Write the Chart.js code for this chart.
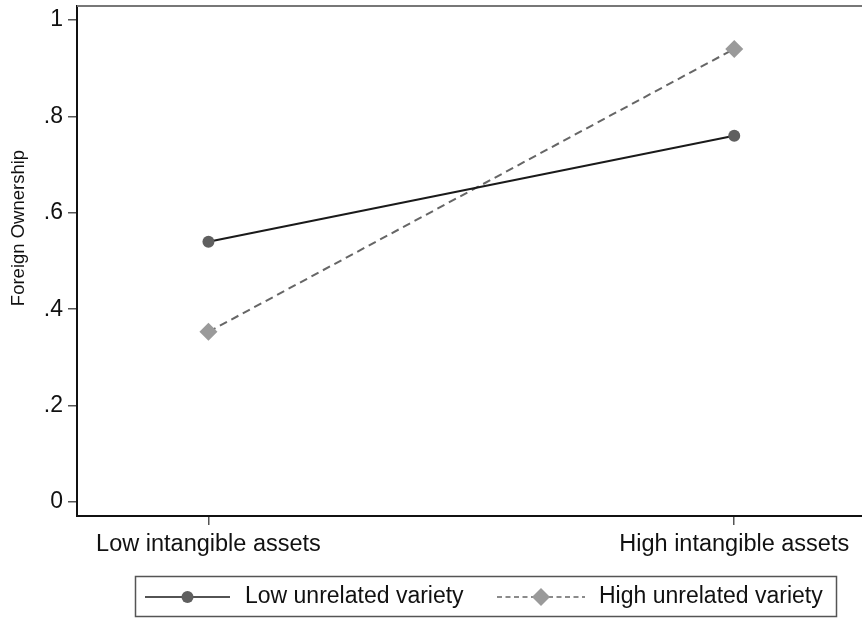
<!DOCTYPE html>
<html>
<head>
<meta charset="utf-8">
<script src="https://cdn.jsdelivr.net/npm/chart.js@4.4.1/dist/chart.umd.min.js"></script>
<style>
  html, body { margin: 0; padding: 0; background: #fff; overflow: hidden; }
  #wrap { width: 862px; height: 619px; position: relative; }
  canvas { display: block; }
</style>
</head>
<body>
<div id="wrap"><canvas id="c" width="862" height="619"></canvas></div>
<script>
const categories = ["Low intangible assets", "High intangible assets"];
const seriesNames = ["Low unrelated variety", "High unrelated variety"];
const lowVariety = [0.54, 0.76];
const highVariety = [0.353, 0.94];
const yTicks = [0, 0.2, 0.4, 0.6, 0.8, 1];
const yTickLabels = ["0", ".2", ".4", ".6", ".8", "1"];
const yTitle = "Foreign Ownership";

const FONT = "'Liberation Sans', Arial, sans-serif";

const decor = {
  id: 'decor',
  afterDraw(chart) {
    const ctx = chart.ctx;
    const a = chart.chartArea;
    ctx.save();
    // top border
    ctx.strokeStyle = '#777';
    ctx.lineWidth = 2;
    ctx.beginPath();
    ctx.moveTo(a.left, a.top);
    ctx.lineTo(a.right, a.top);
    ctx.stroke();

    // y title
    ctx.fillStyle = '#111';
    ctx.font = '18.5px ' + FONT;
    ctx.textAlign = 'center';
    ctx.textBaseline = 'middle';
    ctx.translate(19, 228);
    ctx.rotate(-Math.PI / 2);
    ctx.fillText(yTitle, 0, 0);
    ctx.restore();

    // legend
    ctx.save();
    ctx.strokeStyle = '#555';
    ctx.lineWidth = 1.5;
    ctx.strokeRect(135.5, 576.5, 701, 40);
    const ly = 597;
    const items = [
      { x0: 145, x1: 230, tx: 245, dash: [] },
      { x0: 497, x1: 585, tx: 599, dash: [5, 3.5] }
    ];
    chart.data.datasets.forEach((ds, i) => {
      const it = items[i];
      ctx.save();
      ctx.strokeStyle = ds.borderColor;
      ctx.lineWidth = 1.6;
      ctx.setLineDash(it.dash);
      ctx.beginPath();
      ctx.moveTo(it.x0, ly);
      ctx.lineTo(it.x1, ly);
      ctx.stroke();
      ctx.setLineDash([]);
      ctx.fillStyle = ds.pointBackgroundColor;
      ctx.strokeStyle = ds.pointBackgroundColor;
      Chart.helpers.drawPoint(ctx, {
        pointStyle: ds.pointStyle,
        radius: ds.pointRadius,
        borderWidth: 0,
        rotation: 0
      }, (it.x0 + it.x1) / 2, ly);
      ctx.restore();
      ctx.fillStyle = '#111';
      ctx.font = '23px ' + FONT;
      ctx.textAlign = 'left';
      ctx.textBaseline = 'middle';
      ctx.fillText(ds.label, it.tx, ly);
    });
    ctx.restore();
  }
};

new Chart(document.getElementById('c'), {
  type: 'line',
  data: {
    datasets: [
      {
        label: seriesNames[0],
        data: lowVariety.map((v, i) => ({ x: i, y: v })),
        borderColor: '#1a1a1a',
        borderWidth: 2,
        pointStyle: 'circle',
        pointRadius: 6,
        pointBackgroundColor: '#5f5f5f',
        pointBorderWidth: 0,
        fill: false
      },
      {
        label: seriesNames[1],
        data: highVariety.map((v, i) => ({ x: i, y: v })),
        borderColor: '#666666',
        borderWidth: 2,
        borderDash: [8, 5],
        pointStyle: 'rectRot',
        pointRadius: 9,
        pointBackgroundColor: '#9a9a9a',
        pointBorderWidth: 0,
        fill: false
      }
    ]
  },
  options: {
    responsive: false,
    animation: false,
    events: [],
    layout: { autoPadding: false, padding: { top: 6, right: 0, bottom: 53, left: 0 } },
    plugins: { legend: { display: false }, tooltip: { enabled: false } },
    scales: {
      x: {
        type: 'linear',
        min: -0.25,
        max: 1.243,
        afterBuildTicks: s => { s.ticks = categories.map((c, i) => ({ value: i })); },
        afterFit: s => { s.height = 50; s.paddingLeft = 0; s.paddingRight = 0; },
        ticks: {
          callback: v => categories[v],
          color: '#111',
          font: { size: 23.5, family: FONT },
          padding: 5,
          maxRotation: 0,
          autoSkip: false
        },
        grid: { drawOnChartArea: false, tickLength: 9, color: '#555', lineWidth: 1.5 },
        border: { color: '#111', width: 2 }
      },
      y: {
        min: -0.029,
        max: 1.029,
        afterBuildTicks: s => { s.ticks = yTicks.map(v => ({ value: v })); },
        afterFit: s => { s.width = 77; s.paddingTop = 0; s.paddingBottom = 0; },
        ticks: {
          callback: (v) => { const i = yTicks.findIndex(t => Math.abs(t - v) < 1e-9); return i >= 0 ? yTickLabels[i] : ''; },
          color: '#111',
          font: { size: 23, family: FONT },
          padding: 5
        },
        grid: { drawOnChartArea: false, tickLength: 9, color: '#555', lineWidth: 1.5 },
        border: { color: '#111', width: 2 }
      }
    }
  },
  plugins: [decor]
});
</script>
</body>
</html>
